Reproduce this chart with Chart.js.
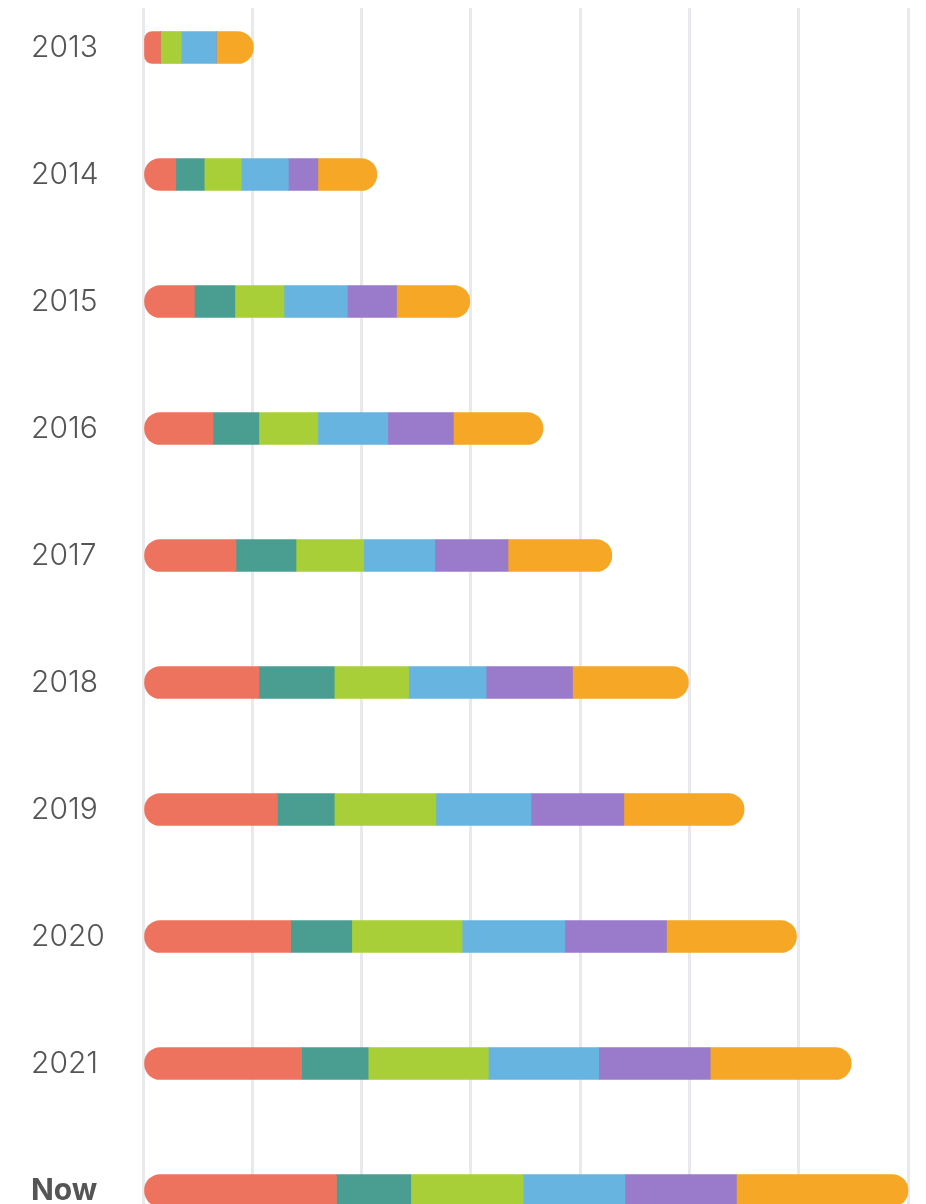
<!DOCTYPE html>
<html>
<head>
<meta charset="utf-8">
<script src="https://cdn.jsdelivr.net/npm/chart.js@4/dist/chart.umd.min.js"></script>
<style>
  html, body { margin: 0; padding: 0; background: #ffffff; overflow: hidden; }
  body { width: 926px; height: 1204px; position: relative; }
  #wrap { position: absolute; left: 0; top: -16px; width: 926px; height: 1270px; }
</style>
</head>
<body>
<div id="wrap"><canvas id="c"></canvas></div>
<script>
const years  = ['2013', '2014', '2015', '2016', '2017', '2018', '2019', '2020', '2021', 'Now'];
const red    = [1.6, 3.0, 4.7, 6.4, 8.5, 10.6, 12.3, 13.5, 14.5, 17.7];
const teal   = [0,   2.6, 3.7, 4.2, 5.5, 6.9,  5.2,  5.6,  6.1,  6.8];
const green  = [1.9, 3.4, 4.5, 5.4, 6.2, 6.8,  9.3,  10.1, 11.0, 10.3];
const blue   = [3.2, 4.3, 5.8, 6.4, 6.5, 7.1,  8.7,  9.4,  10.1, 9.3];
const purple = [0,   2.7, 4.5, 6.0, 6.7, 7.9,  8.5,  9.3,  10.2, 10.2];
const orange = [3.4, 5.4, 6.7, 8.2, 9.5, 10.6, 11.0, 11.9, 12.9, 15.7];
const xTicksMax = 70;
const xTickStep = 10;

const series = [
  { data: red,    color: '#EE735E' },
  { data: teal,   color: '#4A9E91' },
  { data: green,  color: '#A8CF38' },
  { data: blue,   color: '#67B4E0' },
  { data: purple, color: '#997ACB' },
  { data: orange, color: '#F5A725' }
];

const topClip = {
  id: 'topClip',
  beforeDraw(chart) {
    const ctx = chart.ctx;
    ctx.save();
    ctx.beginPath();
    ctx.rect(0, 24, chart.width, chart.height - 24);
    ctx.clip();
  },
  afterDraw(chart) { chart.ctx.restore(); }
};

new Chart(document.getElementById('c'), {
  type: 'bar',
  data: {
    labels: years,
    datasets: series.map(s => ({
      data: s.data,
      backgroundColor: s.color,
      borderWidth: 0,
      borderSkipped: 'middle',
      borderRadius: 16,
      barThickness: 32,
      clip: false
    }))
  },
  options: {
    indexAxis: 'y',
    responsive: true,
    maintainAspectRatio: false,
    animation: false,
    layout: { padding: { left: 31, right: 18, top: 0, bottom: 0 } },
    plugins: { legend: { display: false }, tooltip: { enabled: false } },
    scales: {
      x: {
        stacked: true,
        min: 0,
        max: xTicksMax,
        ticks: { display: false, stepSize: xTickStep },
        grid: { color: '#E8E8EF', lineWidth: 3, drawTicks: false },
        border: { display: false }
      },
      y: {
        stacked: true,
        afterFit(scale) {
          scale.width = 112;
          scale.paddingTop = 0;
          scale.paddingBottom = 0;
        },
        grid: { display: false, drawTicks: false },
        border: { display: false },
        ticks: {
          crossAlign: 'far',
          padding: 0,
          color: '#555555',
          font: (ctx) => ({
            family: 'Inter',
            size: 30,
            weight: ctx.index === years.length - 1 ? '700' : '300'
          })
        }
      }
    }
  },
  plugins: [topClip]
});
</script>
</body>
</html>
